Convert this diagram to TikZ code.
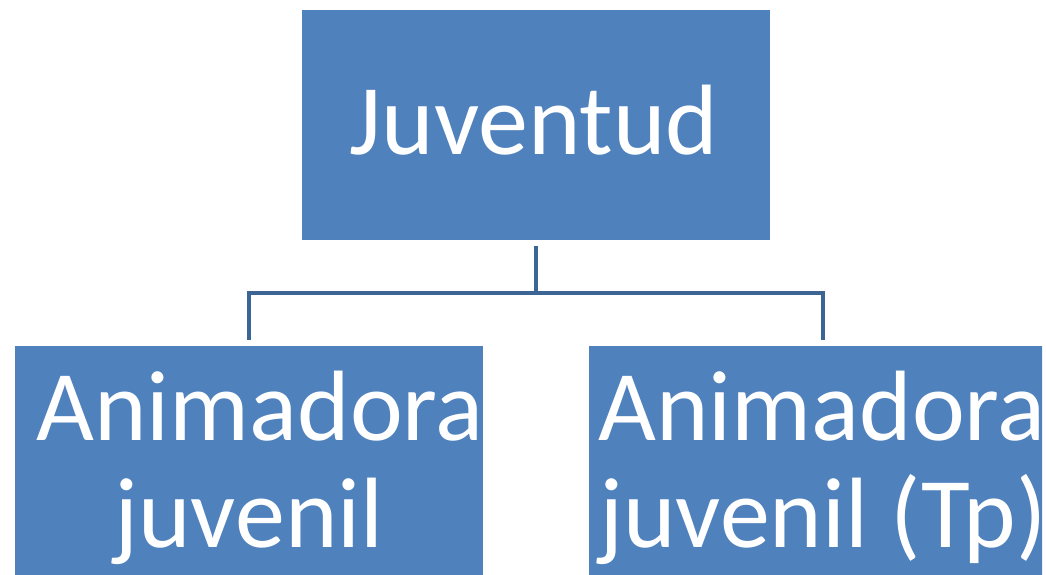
\documentclass[tikz,border=0pt]{standalone}
\usepackage{fontspec}
\setmainfont{Carlito}
\definecolor{boxblue}{HTML}{4F81BD}
\definecolor{linkblue}{HTML}{3C6494}
\begin{document}
\begin{tikzpicture}[x=1pt,y=1pt,
  orgbox/.style={draw=none,fill=boxblue,minimum width=468pt,inner sep=0pt,outer sep=0pt},
  lbl/.style={text=white,font=\fontsize{100}{107}\selectfont,inner sep=0pt,anchor=base},
  link/.style={draw=linkblue,line width=4.5pt}]
\useasboundingbox (0,0) rectangle (1046,574);
\clip (0,0) rectangle (1042,574);
\node[orgbox,minimum height=230pt] (top) at (536,449) {};
\node[orgbox,minimum height=260pt] (left) at (249,98) {};
\node[orgbox,minimum height=260pt] (right) at (823,98) {};
\node[lbl] (ttop) at (534,419) {Juventud};
\node[lbl] (tl1) at (260,134) {Animadora};
\node[lbl] (tl2) at (249,27) {juvenil};
\node[lbl] (tr1) at (822,134) {Animadora};
\node[lbl] (tr2) at (823,27) {juvenil (Tp)};
\coordinate (mid) at (536,281);
\draw[link] ([yshift=-6pt]top.south) -- (mid);
\draw[link] (mid) -| ([yshift=6pt]left.north);
\draw[link] (mid) -| ([yshift=6pt]right.north);
\end{tikzpicture}
\end{document}
